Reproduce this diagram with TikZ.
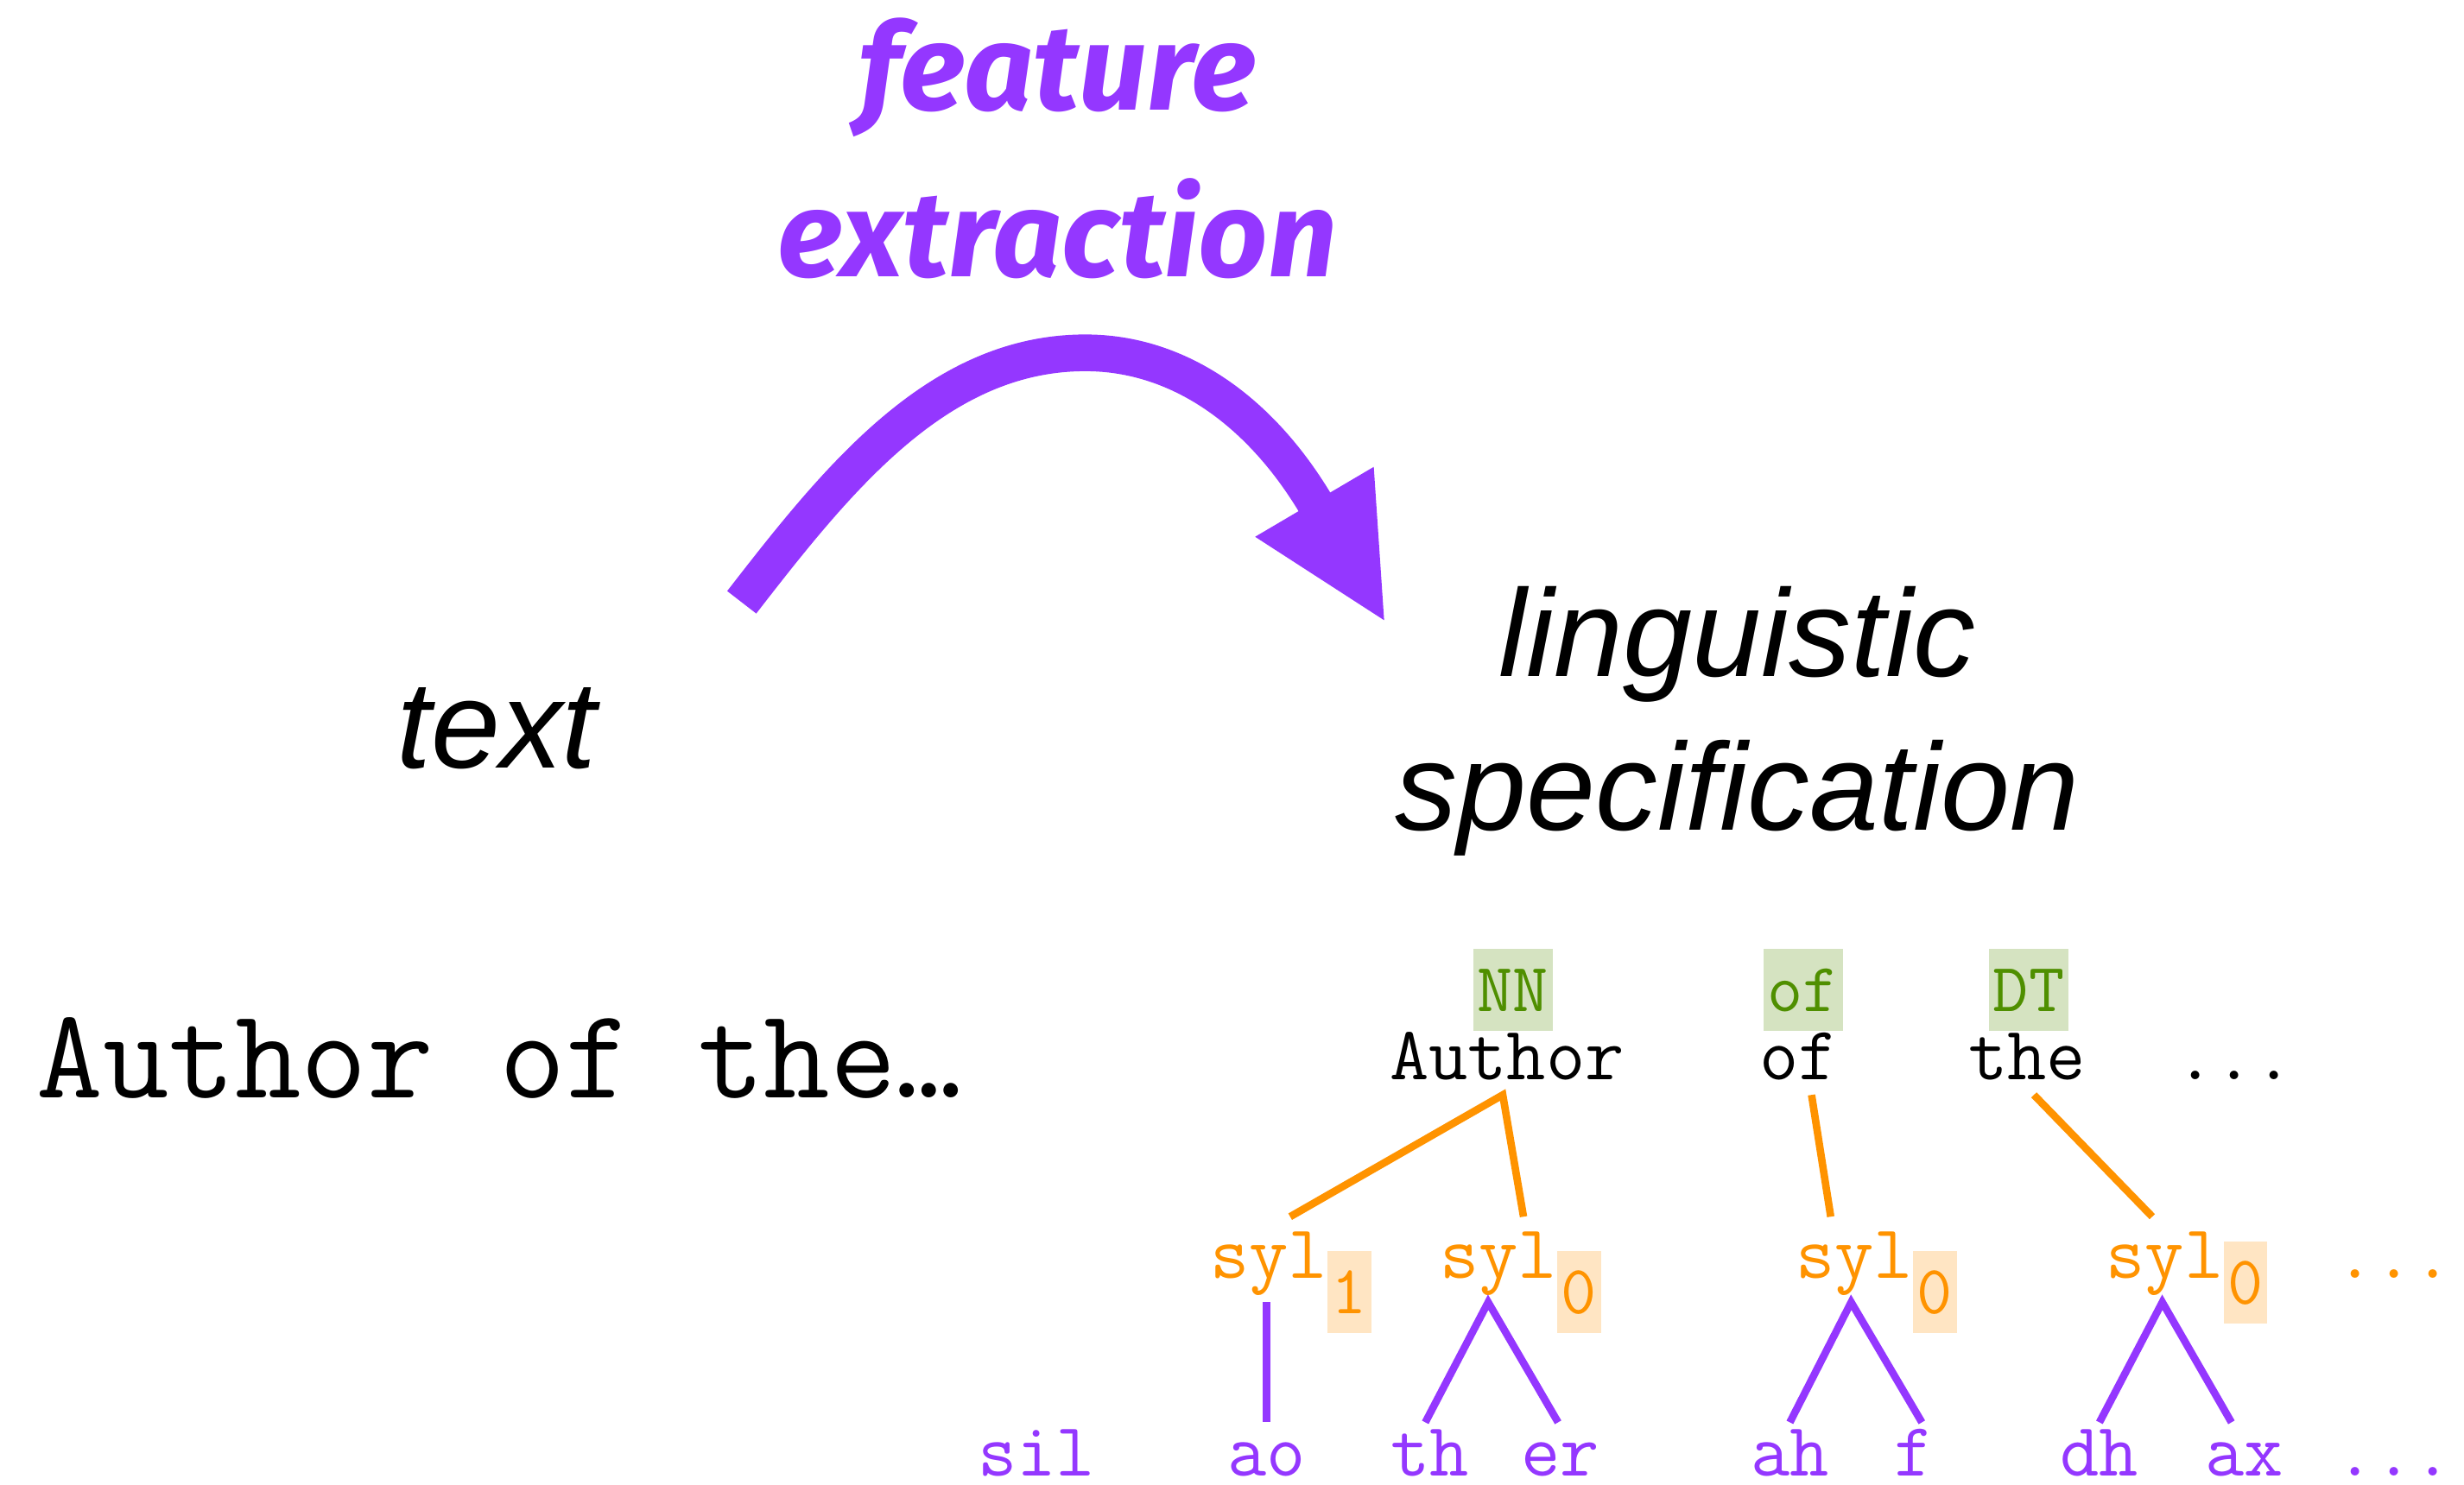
\documentclass[tikz,border=0pt]{standalone}
\usepackage{fontspec}
\usetikzlibrary{calc}
\newfontfamily\helvfont{Liberation Sans}
\newfontfamily\firafont{Fira Sans}
\newcommand\monofont{\ttfamily}
\definecolor{grape}{HTML}{9437FF}
\definecolor{tangerine}{HTML}{FF9300}
\definecolor{fern}{HTML}{4F8F00}
\definecolor{tagbg}{HTML}{D5E3C1}
\definecolor{stressbg}{HTML}{FFE5C3}

\begin{document}
\begin{tikzpicture}[x=0.02cm, y=-0.02cm,
  mono/.style={inner sep=0pt, outer sep=0pt, anchor=base,
    font=\monofont\fontsize{27.5}{27.5}\selectfont},
  word/.style={mono, text depth=5.4pt},
  sylnode/.style={mono, text=tangerine, text height=22.2pt, text depth=8.8pt},
  phone/.style={mono, text=grape, text height=19.4pt, text depth=0pt},
  tagbox/.style={anchor=base, fill=tagbg, text=fern, inner xsep=1.5pt,
    inner ysep=0pt, outer sep=0pt, text height=22.5pt, text depth=7.05pt,
    font=\monofont\fontsize{25}{25}\selectfont},
  stressbox/.style={tagbox, fill=stressbg, text=tangerine, anchor=base west},
  orangeline/.style={draw=tangerine, line width=2.7pt},
  purpleline/.style={draw=grape, line width=2.7pt},
]
\useasboundingbox (0,0) rectangle (1568,945);

% headings (multi-line nodes sit on the baseline of their last line)
\node[anchor=base, align=center, text=grape,
  font=\firafont\bfseries\itshape\fontsize{44}{60.15}\selectfont]
  (fe) at (673,175.9) {feature\\extraction};
\node[anchor=base, inner sep=0pt, font=\helvfont\itshape\fontsize{45}{45}\selectfont]
  (txt) at (316,489) {text};
\node[anchor=base, align=center, inner sep=0pt,
  font=\helvfont\itshape\fontsize{45}{55.8}\selectfont]
  (ling) at (1105.5,528.5) {linguistic\\specification};

% curved arrow from text to linguistic specification
\coordinate (arrS) at (472,383.4);
\coordinate (arrP) at (690.7,224.6);
\coordinate (arrE) at (838.3,322.6);
\coordinate (tipA) at (874.2,297.2);
\coordinate (tipB) at (880.8,394.8);
\coordinate (tipC) at (798.7,341.7);
\draw[grape, line width=13.3pt]
  (arrS) .. controls (533.4,304.1) and (597,224.6) .. (arrP)
         .. controls (750.7,224.6) and (802.8,262.3) .. (arrE);
\fill[grape] (tipA) -- (tipB) -- (tipC) -- cycle;

% input string
\node[anchor=base west, inner sep=0pt,
  font=\monofont\fontsize{46.5}{46.5}\selectfont]
  (src) at (23,699) {Author of the…};

% words and part-of-speech tags
\node[word] (author) at (959,687.5) {Author};
\node[word] (ofw) at (1144.5,687.5) {of};
\node[word] (thew) at (1290,687.5) {the};
\node[word] (wdots) at (1422,687.5) {...};
\node[tagbox] (tNN) at (962.8,643.6) {NN};
\node[tagbox] (tof) at (1147.5,643.6) {of};
\node[tagbox] (tDT) at (1291,643.6) {DT};

% syllables with stress
\node[sylnode] (syl1) at (807.5,813.5) {syl};
\node[sylnode] (syl0a) at (953.5,813.5) {syl};
\node[sylnode] (syl0b) at (1180,813.5) {syl};
\node[sylnode] (syl0c) at (1377.6,813.5) {syl};
\node[sylnode] (sdots) at (1523.5,813.5) {...};
\node[stressbox] (st1) at ($(syl1.base east)+(0,22.5)$) {1};
\node[stressbox] (st0a) at ($(syl0a.base east)+(0,22.5)$) {0};
\node[stressbox] (st0b) at ($(syl0b.base east)+(0,22.5)$) {0};
\node[stressbox] (st0c) at ($(syl0c.base east)+(0,16.5)$) {0};

% phones
\node[phone] (sil) at (659.5,939.5) {sil};
\node[phone] (ao) at (806,939.5) {ao};
\node[phone] (th) at (910,939.5) {th};
\node[phone] (er) at (993,939.5) {er};
\node[phone] (ah) at (1139,939.5) {ah};
\node[phone] (f) at (1218,939.5) {f};
\node[phone] (dh) at (1336,939.5) {dh};
\node[phone] (ax) at (1428,939.5) {ax};
\node[phone] (pdots) at (1523.5,939.5) {...};

% word -> syllable links
\draw[orangeline] ($(syl1.north)+(13.5,0)$) -- ($(author.south)+(-2.7,0)$)
  -- ($(syl0a.north)+(16,0)$);
\draw[orangeline] ($(ofw.south)+(8.3,0)$) -- ($(syl0b.north)+(-15,0)$);
\draw[orangeline] ($(thew.south)+(4.3,0)$) -- ($(syl0c.north)+(-8,0)$);

% syllable -> phone links
\draw[purpleline] ($(syl1.south)+(-1.5,0)$) -- (ao.north);
\draw[purpleline] ($(th.north)+(-3,0)$) -- ($(syl0a.south)+(-6.5,0)$)
  -- ($(er.north)+(-1.5,0)$);
\draw[purpleline] (ah.north) -- ($(syl0b.south)+(-2,0)$) -- ($(f.north)+(5,0)$);
\draw[purpleline] (dh.north) -- ($(syl0c.south)+(-1.6,0)$) -- ($(ax.north)+(-8,0)$);
\end{tikzpicture}
\end{document}
